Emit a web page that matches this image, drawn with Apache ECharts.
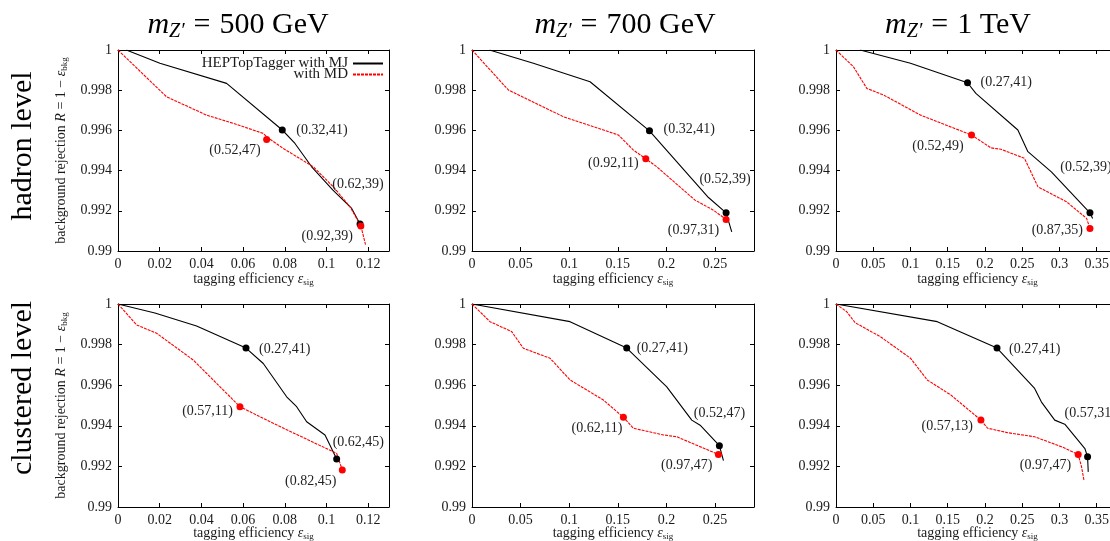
<!DOCTYPE html>
<html>
<head>
<meta charset="utf-8">
<script src="https://cdn.jsdelivr.net/npm/echarts@6/dist/echarts.min.js"></script>
<style>
html, body { margin: 0; padding: 0; background: #fff; }
#main { width: 1110px; height: 541px; }
</style>
</head>
<body>
<div id="main"></div>
<script>
// hadron level, m_Z' = 500 GeV
var h500MJ = [[0.004, 1.0], [0.0201, 0.99934], [0.0521, 0.99834], [0.0788, 0.99602], [0.0849, 0.99535], [0.0929, 0.99419], [0.1031, 0.99303], [0.1121, 0.99212], [0.1161, 0.99134]];
var h500MD = [[0, 1.0], [0.0233, 0.99767], [0.0425, 0.99676], [0.0553, 0.99635], [0.0697, 0.99585], [0.0713, 0.99568], [0.0793, 0.99510], [0.0937, 0.99419], [0.1033, 0.99319], [0.1113, 0.99220], [0.1165, 0.99125], [0.1188, 0.99029]];
var h500MJdots = [[0.0788, 0.99602], [0.1161, 0.99134]];
var h500MDdots = [[0.0713, 0.99555], [0.1165, 0.99125]];
var h500MJtags = ['(0.32,41)', '(0.62,39)'];
var h500MDtags = ['(0.52,47)', '(0.92,39)'];

// hadron level, m_Z' = 700 GeV
var h700MJ = [[0.018, 1.0], [0.0631, 0.99934], [0.1214, 0.99842], [0.1825, 0.99598], [0.2432, 0.99266], [0.2613, 0.99190], [0.2671, 0.99095]];
var h700MD = [[0, 1.0], [0.0374, 0.99801], [0.0940, 0.99668], [0.1506, 0.99577], [0.1660, 0.99502], [0.1787, 0.99459], [0.1900, 0.99419], [0.2294, 0.99253], [0.2483, 0.99203], [0.2613, 0.99157]];
var h700MJdots = [[0.1825, 0.99598], [0.2613, 0.99190]];
var h700MDdots = [[0.1787, 0.99459], [0.2613, 0.99157]];
var h700MJtags = ['(0.32,41)', '(0.52,39)'];
var h700MDtags = ['(0.92,11)', '(0.97,31)'];

// hadron level, m_Z' = 1 TeV
var h1000MJ = [[0.0324, 1.0], [0.1, 0.99934], [0.1766, 0.99837], [0.1878, 0.99784], [0.2442, 0.99602], [0.2577, 0.99494], [0.2892, 0.99394], [0.3410, 0.99190], [0.3446, 0.99162]];
var h1000MD = [[0, 1.0], [0.0234, 0.99917], [0.0414, 0.99809], [0.0639, 0.99776], [0.1135, 0.99676], [0.1820, 0.99577], [0.2081, 0.99513], [0.2216, 0.99506], [0.2531, 0.99461], [0.2712, 0.99319], [0.3095, 0.99245], [0.3365, 0.99162], [0.3410, 0.99112]];
var h1000MJdots = [[0.1766, 0.99837], [0.3410, 0.99190]];
var h1000MDdots = [[0.1820, 0.99577], [0.3410, 0.99112]];
var h1000MJtags = ['(0.27,41)', '(0.52,39)'];
var h1000MDtags = ['(0.52,49)', '(0.87,35)'];

// clustered level, m_Z' = 500 GeV
var c500MJ = [[0, 1.0], [0.0177, 0.99956], [0.0377, 0.99892], [0.0614, 0.99783], [0.0697, 0.99707], [0.0809, 0.99543], [0.0857, 0.99494], [0.0905, 0.99420], [0.0993, 0.99355], [0.1049, 0.99236]];
var c500MD = [[0, 1.0], [0.0038, 0.99956], [0.0089, 0.99897], [0.0185, 0.99856], [0.0361, 0.99724], [0.0585, 0.99494], [0.0745, 0.99412], [0.1049, 0.99264], [0.1076, 0.99182]];
var c500MJdots = [[0.0614, 0.99783], [0.1049, 0.99236]];
var c500MDdots = [[0.0585, 0.99494], [0.1076, 0.99182]];
var c500MJtags = ['(0.27,41)', '(0.62,45)'];
var c500MDtags = ['(0.57,11)', '(0.82,45)'];

// clustered level, m_Z' = 700 GeV
var c700MJ = [[0, 1.0], [0.1008, 0.99913], [0.1591, 0.99783], [0.2003, 0.99592], [0.2260, 0.99428], [0.2346, 0.99403], [0.2544, 0.99302], [0.2586, 0.99228]];
var c700MD = [[0, 1.0], [0.0185, 0.99913], [0.0408, 0.99864], [0.0528, 0.99782], [0.0802, 0.99733], [0.1008, 0.99626], [0.1351, 0.99527], [0.1557, 0.99442], [0.1660, 0.99388], [0.1969, 0.99355], [0.2106, 0.99346], [0.2534, 0.99259]];
var c700MJdots = [[0.1591, 0.99783], [0.2544, 0.99302]];
var c700MDdots = [[0.1557, 0.99442], [0.2534, 0.99259]];
var c700MJtags = ['(0.27,41)', '(0.52,47)'];
var c700MDtags = ['(0.62,11)', '(0.97,47)'];

// clustered level, m_Z' = 1 TeV
var c1000MJ = [[0, 1.0], [0.1360, 0.99913], [0.2162, 0.99783], [0.2667, 0.99584], [0.2757, 0.99518], [0.2937, 0.99428], [0.3072, 0.99408], [0.3342, 0.99288], [0.3378, 0.99247], [0.3387, 0.99173]];
var c1000MD = [[0, 1.0], [0.0144, 0.99962], [0.0257, 0.99908], [0.0595, 0.99839], [0.1, 0.99733], [0.1225, 0.99626], [0.1541, 0.99552], [0.1946, 0.99428], [0.2036, 0.99388], [0.2306, 0.99366], [0.2667, 0.99346], [0.3027, 0.99297], [0.3252, 0.99259], [0.3297, 0.99198], [0.3329, 0.99133]];
var c1000MJdots = [[0.2162, 0.99783], [0.3378, 0.99247]];
var c1000MDdots = [[0.1946, 0.99428], [0.3252, 0.99259]];
var c1000MJtags = ['(0.27,41)', '(0.57,31)'];
var c1000MDtags = ['(0.57,13)', '(0.97,47)'];

// axis ranges
var xMaxes = [0.13, 0.29, 0.38, 0.13, 0.29, 0.38];
var xSteps = [0.02, 0.05, 0.05, 0.02, 0.05, 0.05];
var yMin = 0.99, yMax = 1, yStep = 0.002;

var titles = ['500 GeV', '700 GeV', '1 TeV'];
var rowNames = ['hadron level', 'clustered level'];

var FONT = '"Liberation Serif", "DejaVu Serif", serif';

// grid boxes (left, top, width, height)
var boxes = [
    [118, 50, 271, 201], [472, 50, 282, 201], [836, 50, 283, 201],
    [118, 304, 271, 203], [472, 304, 282, 203], [836, 304, 283, 203]
];

// label anchors relative to each dot: [dx, dy, align], order MJ1, MJ2, MD1, MD2
var tagPlace = [
    [[14, 0, 'left'], [-2, -40, 'center'], [-6, 11, 'right'], [-8, 10, 'right']],
    [[14, -1, 'left'], [-1, -33, 'center'], [-7, 5, 'right'], [-7, 11, 'right']],
    [[13, 0, 'left'], [-4, -45, 'center'], [-8, 11, 'right'], [-7, 2, 'right']],
    [[13, 1, 'left'], [-4, -17, 'left'], [-7, 5, 'right'], [-6, 11, 'right']],
    [[10, 0, 'left'], [0, -32, 'center'], [-1, 11, 'right'], [-6, 11, 'right']],
    [[12, 1, 'left'], [-23, -44, 'left'], [-8, 6, 'right'], [-7, 11, 'right']]
];

var panels = [
    { mj: h500MJ, md: h500MD, mjDots: h500MJdots, mdDots: h500MDdots, mjTags: h500MJtags, mdTags: h500MDtags },
    { mj: h700MJ, md: h700MD, mjDots: h700MJdots, mdDots: h700MDdots, mjTags: h700MJtags, mdTags: h700MDtags },
    { mj: h1000MJ, md: h1000MD, mjDots: h1000MJdots, mdDots: h1000MDdots, mjTags: h1000MJtags, mdTags: h1000MDtags },
    { mj: c500MJ, md: c500MD, mjDots: c500MJdots, mdDots: c500MDdots, mjTags: c500MJtags, mdTags: c500MDtags },
    { mj: c700MJ, md: c700MD, mjDots: c700MJdots, mdDots: c700MDdots, mjTags: c700MJtags, mdTags: c700MDtags },
    { mj: c1000MJ, md: c1000MD, mjDots: c1000MJdots, mdDots: c1000MDdots, mjTags: c1000MJtags, mdTags: c1000MDtags }
];

var DOT = 7;
var lineAxis = { show: true, onZero: false, lineStyle: { color: '#000', width: 1 } };
var inTick = { show: true, inside: true, length: 4, lineStyle: { color: '#000', width: 1 } };
var subRich = {
    i: { fontFamily: FONT, fontSize: 14, fontStyle: 'italic', color: '#1a1a1a', lineHeight: 16 },
    s: { fontFamily: FONT, fontSize: 9, color: '#1a1a1a', lineHeight: 9, verticalAlign: 'bottom' },
    n: { fontFamily: FONT, fontSize: 14, color: '#1a1a1a', lineHeight: 16 }
};

var grids = [], xAxes = [], yAxes = [], series = [];

function dotData(pts, tags, places, k0) {
    return pts.map(function (p, k) {
        var pl = places[k0 + k];
        return {
            name: tags[k],
            value: p,
            label: { position: [DOT / 2 + pl[0], DOT / 2 + pl[1]], align: pl[2], verticalAlign: 'middle' }
        };
    });
}

panels.forEach(function (p, i) {
    var b = boxes[i];
    var bottomRow = i >= 3;
    grids.push({ left: b[0], top: b[1], width: b[2], height: b[3], outerBoundsMode: 'none', containLabel: false });

    xAxes.push({
        type: 'value', gridIndex: i, position: 'bottom', min: 0, max: xMaxes[i], interval: xSteps[i],
        axisLine: lineAxis, axisTick: inTick, splitLine: { show: false },
        axisLabel: { show: true, margin: 6, showMaxLabel: false, showMinLabel: true, fontFamily: FONT, fontSize: 14, color: '#1a1a1a' },
        name: '{n|tagging efficiency }{i|ε}{s|sig}', nameLocation: 'middle', nameGap: bottomRow ? 18 : 20,
        nameMoveOverlap: false,
        nameTextStyle: { fontFamily: FONT, fontSize: 14, color: '#1a1a1a', rich: subRich }
    });
    xAxes.push({
        type: 'value', gridIndex: i, position: 'top', min: 0, max: xMaxes[i], interval: xSteps[i],
        axisLine: lineAxis, axisTick: inTick, splitLine: { show: false }, axisLabel: { show: false }
    });

    var yLeft = {
        type: 'value', gridIndex: i, position: 'left', min: yMin, max: yMax, interval: yStep,
        axisLine: lineAxis, axisTick: inTick, splitLine: { show: false },
        axisLabel: { show: true, margin: 6, fontFamily: FONT, fontSize: 14, color: '#1a1a1a' }
    };
    if (i % 3 === 0) {
        yLeft.name = 'background rejection {i|R} = 1 − {i|ε}{s|bkg}';
        yLeft.nameLocation = 'middle';
        yLeft.nameRotate = 90;
        yLeft.nameGap = 49;
        yLeft.nameMoveOverlap = false;
        yLeft.nameTextStyle = { fontFamily: FONT, fontSize: 14, color: '#1a1a1a', rich: subRich };
    }
    yAxes.push(yLeft);
    yAxes.push({
        type: 'value', gridIndex: i, position: 'right', min: yMin, max: yMax, interval: yStep,
        axisLine: lineAxis, axisTick: inTick, splitLine: { show: false }, axisLabel: { show: false }
    });

    var xi = 2 * i, yi = 2 * i;
    series.push({
        type: 'line', name: 'HEPTopTagger with MJ', xAxisIndex: xi, yAxisIndex: yi,
        data: p.mj, symbol: 'none', clip: true,
        lineStyle: { color: '#000', width: 1.1 }, itemStyle: { color: '#000' }
    });
    series.push({
        type: 'line', name: 'with MD', xAxisIndex: xi, yAxisIndex: yi,
        data: p.md, symbol: 'none', clip: true,
        lineStyle: { color: '#ff0000', width: 1.1, type: [3, 1] }, itemStyle: { color: '#ff0000' }
    });
    var dotLabel = { show: true, formatter: '{b}', fontFamily: FONT, fontSize: 14, color: '#222' };
    series.push({
        type: 'scatter', xAxisIndex: xi, yAxisIndex: yi, symbolSize: DOT, z: 5,
        itemStyle: { color: '#000', opacity: 1 }, label: dotLabel,
        data: dotData(p.mjDots, p.mjTags, tagPlace[i], 0)
    });
    series.push({
        type: 'scatter', xAxisIndex: xi, yAxisIndex: yi, symbolSize: DOT, z: 5,
        itemStyle: { color: '#ff0000', opacity: 1 }, label: dotLabel,
        data: dotData(p.mdDots, p.mdTags, tagPlace[i], 2)
    });
});

var titleRich = {
    m: { fontFamily: FONT, fontSize: 30, fontStyle: 'italic', color: '#000', lineHeight: 34 },
    z: { fontFamily: FONT, fontSize: 20, fontStyle: 'italic', color: '#000', lineHeight: 20, verticalAlign: 'bottom' },
    e: { fontFamily: FONT, fontSize: 30, color: '#000', lineHeight: 34, padding: [0, 9, 0, 9] },
    n: { fontFamily: FONT, fontSize: 30, color: '#000', lineHeight: 34 }
};
var titleX = [238, 625, 958];
var graphics = titles.map(function (t, k) {
    return {
        type: 'text', x: titleX[k], y: 25,
        style: { text: '{m|m}{z|Z′}{e|=}{n|' + t + '}', rich: titleRich, fontFamily: FONT, align: 'center', verticalAlign: 'middle' }
    };
});
var rowY = [146, 388];
rowNames.forEach(function (r, k) {
    graphics.push({
        type: 'text', x: 23, y: rowY[k], rotation: Math.PI / 2,
        style: { text: r, fontFamily: FONT, fontSize: 30, fill: '#000', align: 'center', verticalAlign: 'middle' }
    });
});

var legendCommon = {
    orient: 'horizontal', align: 'right', right: 726, itemWidth: 30, itemHeight: 10, padding: 0,
    selectedMode: false, itemStyle: { opacity: 0 },
    textStyle: { fontFamily: FONT, fontSize: 15, color: '#1a1a1a' }
};

var myChart = echarts.init(document.getElementById('main'));
var option = {
    animation: false,
    backgroundColor: '#fff',
    grid: grids,
    xAxis: xAxes,
    yAxis: yAxes,
    legend: [
        Object.assign({}, legendCommon, { data: ['HEPTopTagger with MJ'], top: 56 }),
        Object.assign({}, legendCommon, { data: ['with MD'], top: 67 })
    ],
    graphic: graphics,
    series: series
};
option && myChart.setOption(option);
</script>
</body>
</html>
